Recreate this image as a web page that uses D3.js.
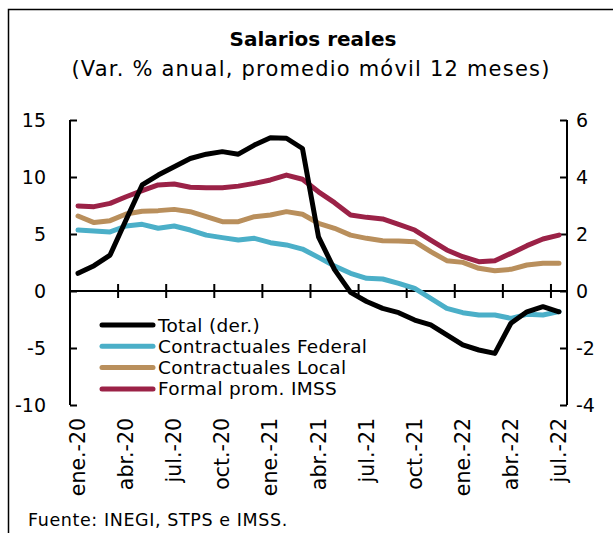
<!DOCTYPE html>
<html>
<head>
<meta charset="utf-8">
<script src="https://cdn.jsdelivr.net/npm/d3@7"></script>
<style>
  body { margin: 0; background: #fff; }
  svg { display: block; font-family: "DejaVu Sans", sans-serif; }
</style>
</head>
<body>
<svg id="chart" width="613" height="533"></svg>
<script>
// monthly series, ene-20 .. jul-22
var meses = ["ene","feb","mar","abr","may","jun","jul","ago","sep","oct","nov","dic"]
var months = []
for (var y = 20; y <= 22; y++) {
	meses.forEach(function(m, i) {
		if (y == 22 && i > 6) return
		months.push(m + ".-" + y)
	})
}

// Total (der.) -- right axis
var total = [0.62, 0.89, 1.26, 2.5, 3.72, 4.07, 4.36, 4.65, 4.8, 4.89, 4.8, 5.12, 5.38, 5.36, 5.0,
	1.9, 0.75, -0.05, -0.37, -0.61, -0.76, -1.02, -1.19, -1.54, -1.89, -2.07, -2.19, -1.13, -0.73, -0.55, -0.73]
// left axis
var federal = [5.35, 5.26, 5.18, 5.7, 5.85, 5.5, 5.7, 5.35, 4.9, 4.68, 4.47, 4.62, 4.24, 4.04, 3.68,
	2.95, 2.2, 1.55, 1.11, 1.05, 0.67, 0.23, -0.64, -1.52, -1.9, -2.1, -2.1, -2.4, -2.05, -2.1, -1.81]
var local = [6.58, 6.0, 6.17, 6.75, 7.0, 7.05, 7.16, 6.96, 6.52, 6.08, 6.08, 6.52, 6.67, 6.96, 6.73,
	5.94, 5.5, 4.9, 4.62, 4.41, 4.39, 4.33, 3.45, 2.66, 2.51, 1.99, 1.78, 1.9, 2.28, 2.43, 2.43]
var imss = [7.46, 7.4, 7.69, 8.27, 8.8, 9.3, 9.39, 9.1, 9.06, 9.06, 9.2, 9.44, 9.74, 10.17, 9.8,
	8.7, 7.75, 6.67, 6.46, 6.32, 5.85, 5.35, 4.47, 3.6, 3.01, 2.57, 2.66, 3.3, 3.98, 4.56, 4.9]

var leftTicks = [-10, -5, 0, 5, 10, 15]
var rightTicks = [-4, -2, 0, 2, 4, 6]

var series = [
	{name: "Total (der.)", values: total, color: "#000000", axis: "right"},
	{name: "Contractuales Federal", values: federal, color: "#4bafc8", axis: "left"},
	{name: "Contractuales Local", values: local, color: "#b98f5c", axis: "left"},
	{name: "Formal prom. IMSS", values: imss, color: "#9b2247", axis: "left"}
]

var svg = d3.select("#chart")

// frame
svg.append("path")
	.attr("d", "M8.5,533 L8.5,9.5 L613,9.5")
	.attr("fill", "none").attr("stroke", "#000").attr("stroke-width", 1.5)

svg.append("text").attr("x", 313).attr("y", 46)
	.attr("text-anchor", "middle").attr("font-size", 20).attr("font-weight", "bold")
	.text("Salarios reales")
svg.append("text").attr("x", 311).attr("y", 76)
	.attr("text-anchor", "middle").attr("font-size", 21).attr("letter-spacing", 1.2)
	.text("(Var. % anual, promedio móvil 12 meses)")

var x = d3.scaleBand().domain(months).range([70, 567]).padding(0)
var yL = d3.scaleLinear().domain([-10, 15]).range([405, 120])
var yR = d3.scaleLinear().domain([-4, 6]).range([405, 120])

// left axis
var gL = svg.append("g").attr("transform", "translate(70,0)")
	.call(d3.axisRight(yL).tickValues(leftTicks).tickSize(7).tickFormat(""))
gL.selectAll("path, line").attr("stroke", "#000").attr("stroke-width", 2)
gL.select(".domain").attr("d", "M0," + yL(-10) + "V" + yL(15))
svg.selectAll(".ltick").data(leftTicks).enter().append("text")
	.attr("class", "ltick")
	.attr("x", 46).attr("y", function(d) { return yL(d) + 7 })
	.attr("text-anchor", "end").attr("font-size", 19)
	.text(function(d) { return d })

// right axis
var gR = svg.append("g").attr("transform", "translate(567,0)")
	.call(d3.axisLeft(yR).tickValues(rightTicks).tickSize(7).tickFormat(""))
gR.selectAll("path, line").attr("stroke", "#000").attr("stroke-width", 2)
gR.select(".domain").attr("d", "M0," + yR(-4) + "V" + yR(6))
svg.selectAll(".rtick").data(rightTicks).enter().append("text")
	.attr("class", "rtick")
	.attr("x", 576).attr("y", function(d) { return yR(d) + 7 })
	.attr("text-anchor", "start").attr("font-size", 19)
	.text(function(d) { return d })

// zero line with category ticks
svg.append("line")
	.attr("x1", 70).attr("x2", 567).attr("y1", yL(0)).attr("y2", yL(0))
	.attr("stroke", "#000").attr("stroke-width", 2)
var tickIdx = d3.range(3, months.length, 3)
svg.selectAll(".xtick").data(tickIdx).enter().append("line")
	.attr("class", "xtick")
	.attr("x1", function(k) { return x(months[k]) })
	.attr("x2", function(k) { return x(months[k]) })
	.attr("y1", yL(0) - 7).attr("y2", yL(0) + 7)
	.attr("stroke", "#000").attr("stroke-width", 2)

// x labels every 3 months
var labelIdx = d3.range(0, months.length, 3)
svg.selectAll(".xlab").data(labelIdx).enter().append("text")
	.attr("class", "xlab")
	.attr("transform", function(i) {
		return "translate(" + (x(months[i]) + x.bandwidth() / 2 + 7) + ",418) rotate(-90)"
	})
	.attr("text-anchor", "end").attr("font-size", 20.5)
	.text(function(i) { return months[i] })

// lines
var drawOrder = [series[1], series[2], series[3], series[0]]
drawOrder.forEach(function(s) {
	var yy = s.axis == "right" ? yR : yL
	var line = d3.line()
		.x(function(d, i) { return x(months[i]) + x.bandwidth() / 2 })
		.y(function(d) { return yy(d) })
	svg.append("path")
		.datum(s.values)
		.attr("d", line)
		.attr("fill", "none")
		.attr("stroke", s.color)
		.attr("stroke-width", 5)
		.attr("stroke-linejoin", "round")
		.attr("stroke-linecap", "round")
})

// legend
var leg = svg.selectAll(".leg").data(series).enter().append("g")
	.attr("class", "leg")
	.attr("transform", function(d, i) { return "translate(102," + (325 + i * 21.3) + ")" })
leg.append("line")
	.attr("x1", 0).attr("x2", 51).attr("y1", 0).attr("y2", 0)
	.attr("stroke", function(d) { return d.color })
	.attr("stroke-width", 5).attr("stroke-linecap", "round")
leg.append("text")
	.attr("x", 56).attr("y", 6.5).attr("font-size", 18.5).attr("letter-spacing", 0.3)
	.text(function(d) { return d.name })

svg.append("text").attr("x", 28).attr("y", 526)
	.attr("font-size", 17.5).attr("letter-spacing", 0.6)
	.text("Fuente: INEGI, STPS e IMSS.")
</script>
</body>
</html>
